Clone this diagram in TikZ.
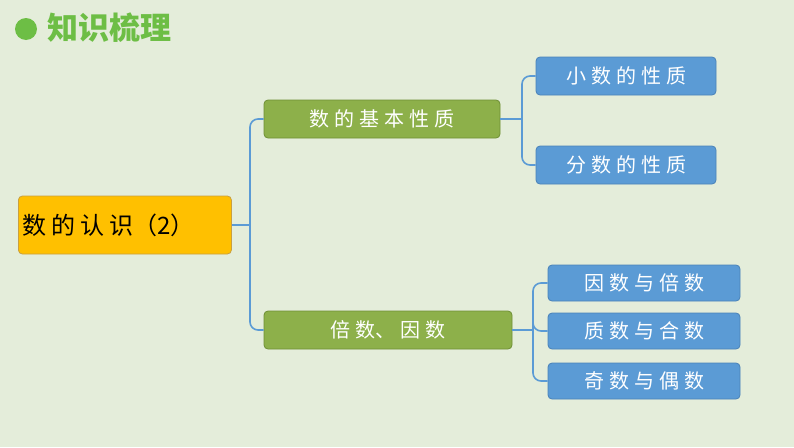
\documentclass[tikz,border=0pt]{standalone}
\usepackage{fontspec}
\setmainfont{Noto Sans CJK SC}
\newcommand{\gp}{\hspace{5pt}}
\begin{document}
\begin{tikzpicture}[x=1pt,y=-1pt,
 box/.style={draw,rounded corners=4pt,line width=0.8pt,inner sep=0pt,font=\fontsize{20}{20}\selectfont},
 rootbox/.style={box,fill=rootc,draw=rootd,minimum width=213pt,minimum height=58pt,font=\fontsize{24}{24}\selectfont},
 greenbox/.style={box,fill=grc,draw=grd,text=white,minimum height=38pt},
 bluebox/.style={box,fill=blc,draw=bld,text=white,minimum height=38pt},
 link/.style={draw=linkc,line width=1.6pt,rounded corners=8pt}]
\definecolor{bg}{HTML}{E4EDDA}
\definecolor{rootc}{HTML}{FFC000}
\definecolor{rootd}{HTML}{C8A040}
\definecolor{grc}{HTML}{8DB04A}
\definecolor{grd}{HTML}{6E8F35}
\definecolor{blc}{HTML}{5B9BD5}
\definecolor{bld}{HTML}{4A82B8}
\definecolor{linkc}{HTML}{5B9BD5}
\definecolor{titc}{HTML}{6DBE45}
\fill[bg] (0,0) rectangle (794,447);
\fill[titc] (26,29) circle (11);
\node[anchor=west,text=titc,font=\fontsize{31}{31}\selectfont\bfseries,inner sep=0pt] (title) at (47,28) {知识梳理};
\node[rootbox,anchor=west,text width=205pt,align=left] (root) at (18,225) {数\gp 的\gp 认\gp 识（2）};
\node[greenbox,minimum width=236pt] (g1) at (382,119) {数\gp 的\gp 基\gp 本\gp 性\gp 质};
\node[greenbox,minimum width=248pt] (g2) at (388,330) {倍\gp 数、\gp 因\gp 数};
\node[bluebox,minimum width=180pt] (b1) at (626,76) {小\gp 数\gp 的\gp 性\gp 质};
\node[bluebox,minimum width=180pt] (b2) at (626,165) {分\gp 数\gp 的\gp 性\gp 质};
\node[bluebox,minimum width=192pt,minimum height=36pt] (b3) at (644,283) {因\gp 数\gp 与\gp 倍\gp 数};
\node[bluebox,minimum width=192pt,minimum height=36pt] (b4) at (644,331) {质\gp 数\gp 与\gp 合\gp 数};
\node[bluebox,minimum width=192pt,minimum height=36pt] (b5) at (644,381) {奇\gp 数\gp 与\gp 偶\gp 数};
\coordinate (j0) at (250,225);
\draw[link] (root.east) -- (j0);
\draw[link] (j0) |- (g1.west);
\draw[link] (j0) |- (g2.west);
\coordinate (j1) at (522,119);
\draw[link] (g1.east) -- (j1);
\draw[link] (j1) |- (b1.west);
\draw[link] (j1) |- (b2.west);
\coordinate (j2) at (533,330);
\draw[link] (g2.east) -- (j2);
\draw[link] (j2) |- (b3.west);
\draw[link] (j2) |- (b4.west);
\draw[link] (j2) |- (b5.west);
\end{tikzpicture}
\end{document}
